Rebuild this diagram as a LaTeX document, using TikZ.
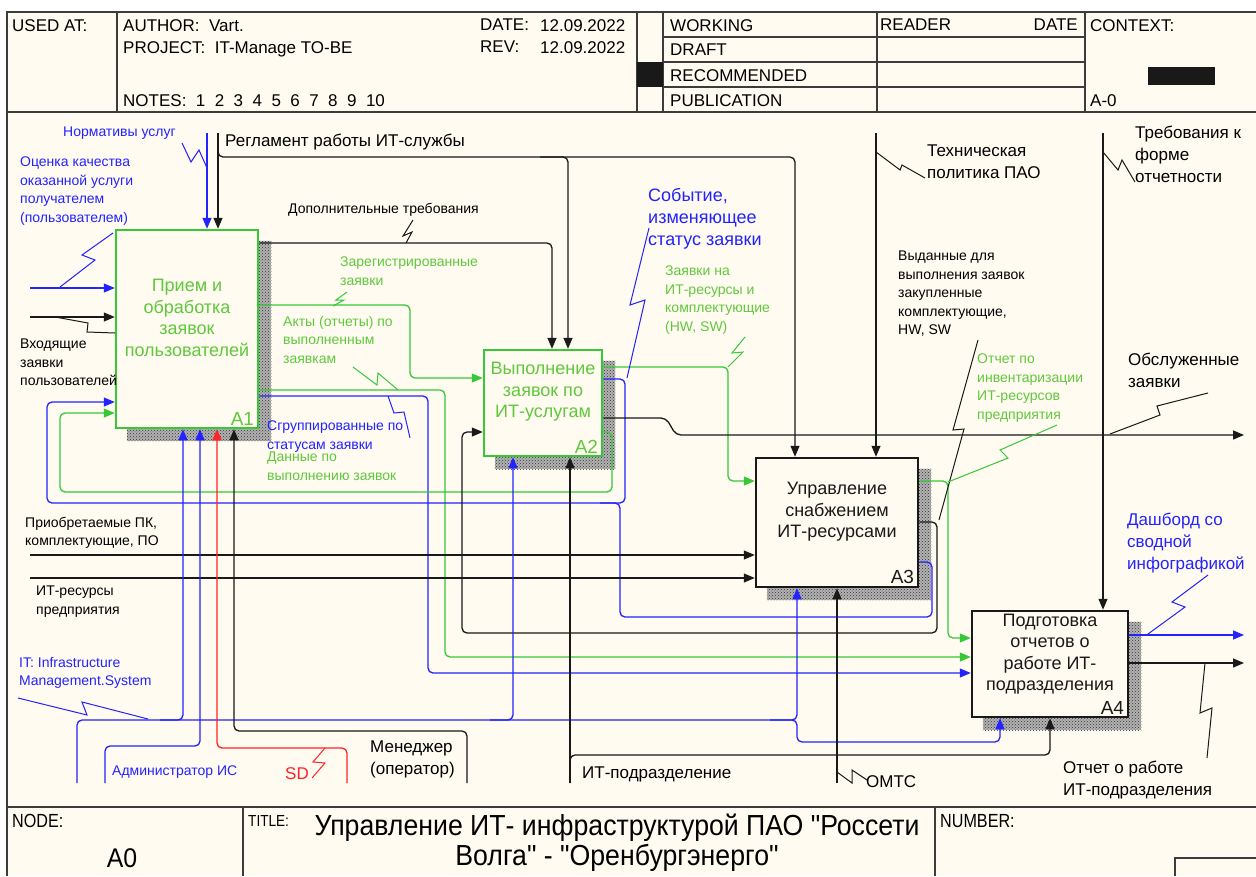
\documentclass[tikz,border=0pt]{standalone}
\usepackage{fontspec}
\setmainfont{Liberation Sans}
\newfontfamily\narrowf[FakeStretch=0.85]{Liberation Sans}
\newfontfamily\titlef[FakeStretch=0.92]{Liberation Sans}
\usetikzlibrary{arrows.meta,patterns,backgrounds}
\definecolor{bgc}{RGB}{255,251,240}
\definecolor{bl}{RGB}{35,35,255}
\definecolor{gr}{RGB}{55,200,55}
\definecolor{grt}{RGB}{95,200,60}
\definecolor{rd}{RGB}{255,35,35}
\definecolor{ink}{RGB}{25,25,25}
\begin{document}
\begin{tikzpicture}[x=1pt,y=-1pt,
  fr/.style={draw=ink!85, line width=1.5pt},
  bx/.style={line width=2.5pt, fill=bgc, inner sep=0pt},
  cn/.style={line width=1.3pt, rounded corners=5pt},
  ar/.style={-{Triangle[length=11pt,width=9pt]}},
  cB/.style={cn, draw=bl}, cG/.style={cn, draw=gr}, cK/.style={cn, draw=ink}, cR/.style={cn, draw=rd},
  zz/.style={line width=1pt},
  lab/.style={anchor=north west, inner sep=0pt, align=left},
  ls/.style={lab, font=\fontsize{14}{18.5}\selectfont},
  ll/.style={lab, font=\fontsize{17}{22}\selectfont},
  bt/.style={align=center, font=\fontsize{18}{21.5}\selectfont, inner sep=0pt},
  bn/.style={anchor=south east, inner sep=0pt, font=\fontsize{19}{20}\selectfont},
  hd/.style={anchor=north west, inner sep=0pt, font=\fontsize{17}{20}\selectfont},
  shd/.style={fill=gray!60, postaction={pattern=crosshatch dots, pattern color=black!80}},
]
\useasboundingbox (0,0) rectangle (1256,876);
\begin{scope}[on background layer]
  \fill[white] (0,0) rectangle (1256,876);
  \fill[bgc] (7,12) rectangle (1256,876);
\end{scope}

% ---------- frame ----------
\draw[fr] (1256,12) -- (7,12) -- (7,876);
\draw[fr] (7,112) -- (1256,112);
\draw[fr] (117,12) -- (117,112);
\draw[fr] (637,12) -- (637,112);
\draw[fr] (663,12) -- (663,112);
\draw[fr] (877,12) -- (877,112);
\draw[fr] (1085,12) -- (1085,112);
\foreach \yy in {37,62,87} \draw[fr] (663,\yy) -- (1085,\yy);
\fill[ink] (637,62) rectangle (663,87);
\fill[ink] (1148,67) rectangle (1215,85);
\draw[fr] (7,807) -- (1256,807);
\draw[fr] (243,807) -- (243,876);
\draw[fr] (935,807) -- (935,876);
\draw[fr] (1256,858) -- (1175,858) -- (1175,876);

% ---------- header text ----------
\node[hd] (hUsed) at (12,19) {USED AT:};
\node[hd] (hAuth) at (123,19) {AUTHOR:\ \ Vart.};
\node[hd] (hProj) at (123,41) {PROJECT:\ \ IT-Manage TO-BE};
\node[hd] (hNotes) at (123,94) {NOTES:\ \ 1\ \ 2\ \ 3\ \ 4\ \ 5\ \ 6\ \ 7\ \ 8\ \ 9\ \ 10};
\node[hd] (hDate) at (480,19) {DATE:};
\node[hd] (hDateV) at (540,19) {12.09.2022};
\node[hd] (hRev) at (480,41) {REV:};
\node[hd] (hRevV) at (540,41) {12.09.2022};
\node[hd] (hWork) at (670,19) {WORKING};
\node[hd] (hDraft) at (670,44) {DRAFT};
\node[hd] (hRec) at (670,69) {RECOMMENDED};
\node[hd] (hPub) at (670,94) {PUBLICATION};
\node[hd] (hRead) at (880,19) {READER};
\node[hd, anchor=north east] (hRDate) at (1078,19) {DATE};
\node[hd] (hCtx) at (1090,19) {CONTEXT:};
\node[hd] (hA0) at (1090,94) {A-0};

% ---------- footer text ----------
\node[anchor=north west, inner sep=0pt, font=\narrowf\fontsize{19}{20}\selectfont] (bNode) at (12,814) {NODE:};
\node[anchor=north west, inner sep=0pt, font=\narrowf\fontsize{16}{18}\selectfont] (bTitle) at (248,815) {TITLE:};
\node[anchor=north west, inner sep=0pt, font=\narrowf\fontsize{19}{20}\selectfont] (bNum) at (940,814) {NUMBER:};
\node[font=\titlef\fontsize{27}{30}\selectfont, inner sep=0pt] (bA0) at (122,858) {A0};
\node[font=\titlef\fontsize{29}{30}\selectfont, align=center, inner sep=0pt] (bT) at (617,843) {Управление ИТ- инфраструктурой ПАО "Россети\\Волга" - "Оренбургэнерго"};

% ---------- boxes ----------
\node[bx, draw=gr, minimum width=142pt, minimum height=198pt] (A1) at (187,329) {};
\node[bx, draw=gr, minimum width=118pt, minimum height=106pt] (A2) at (543,403) {};
\node[bx, draw=ink, minimum width=162pt, minimum height=129pt] (A3) at (837,522.5) {};
\node[bx, draw=ink, minimum width=156pt, minimum height=106pt] (A4) at (1050,664) {};
\begin{scope}[on background layer]
  \foreach \b in {A1,A2,A3,A4}
    \path[shd] ([shift={(12,12)}]\b.north west) rectangle ([shift={(12,12)}]\b.south east);
\end{scope}
\node[bt, text=grt] (A1t) at (187,318) {Прием и\\обработка\\заявок\\пользователей};
\node[bn, text=grt] (A1n) at ([shift={(-5,-4)}]A1.south east) {A1};
\node[bt, text=grt] (A2t) at (543,392) {Выполнение\\заявок по\\ИТ-услугам};
\node[bn, text=grt] (A2n) at ([shift={(-5,-4)}]A2.south east) {A2};
\node[bt, text=ink] (A3t) at (837,512) {Управление\\снабжением\\ИТ-ресурсами};
\node[bn, text=ink] (A3n) at ([shift={(-5,-4)}]A3.south east) {A3};
\node[bt, text=ink] (A4t) at (1050,654) {Подготовка\\отчетов о\\работе ИТ-\\подразделения};
\node[bn, text=ink] (A4n) at ([shift={(-5,-4)}]A4.south east) {A4};

% ---------- free ends ----------
\coordinate (cNorm) at (207,133);
\coordinate (cReg) at (218,133);
\coordinate (cTech) at (876,133);
\coordinate (cTreb) at (1103,133);
\coordinate (iOcen) at (30,288);
\coordinate (iVhod) at (30,317);
\coordinate (iPriob) at (30,555);
\coordinate (iRes) at (30,578);
\coordinate (mIT) at (77,783);
\coordinate (mAdm) at (105,783);
\coordinate (mSD) at (347,783);
\coordinate (mMen) at (467,783);
\coordinate (mPodr) at (570,783);
\coordinate (mOmts) at (837,783);
\coordinate (oObs) at (1244,435);
\coordinate (oDash) at (1244,635);
\coordinate (oOtch) at (1244,663);

% ---------- connectors ----------
\draw[cB,ar] (cNorm) -- (A1.north -| cNorm);
\draw[cK,ar] (cReg) -- (A1.north -| cReg);
\draw[cK,ar] (218,150) -- (218,157) -- (795,157) -- (A3.north -| 795,0);
\draw[cK,ar] (540,157) -- (568,157) -- (A2.north -| 568,0);
\draw[cK,ar] (A1.east |- 0,243) -- (552,243) -- (A2.north -| 552,0);
\draw[cG,ar] (A1.east |- 0,305) -- (410,305) -- (410,378) -- (A2.west |- 0,378);
\draw[cG,ar] (A1.east |- 0,390) -- (445,390) -- (445,657) -- (A4.west |- 0,657);
\draw[cB,ar] (A1.east |- 0,396) -- (428,396) -- (428,673) -- (A4.west |- 0,673);
\draw[cB,ar] (A2.east |- 0,379) -- (625,379) -- (625,503) -- (47,503) -- (47,402) -- (A1.west |- 0,402);
\draw[cB] (A3.east |- 0,562) -- (932,562) -- (932,617) -- (620,617) -- (620,503) -- (600,503);
\draw[cG,ar] (A2.east |- 0,432) -- (612,432) -- (612,492) -- (60,492) -- (60,413) -- (A1.west |- 0,413);
\draw[cG,ar] (A2.east |- 0,367) -- (728,367) -- (728,481) -- (A3.west |- 0,481);
\draw[cK,ar] (A2.east |- 0,418) -- (666,418) -- (676,435) -- (oObs);
\draw[cK,ar] (A3.east |- 0,522) -- (937,522) -- (937,633) -- (462,633) -- (462,432) -- (A2.west |- 0,432);
\draw[cG,ar] (A3.east |- 0,481) -- (948,481) -- (948,638) -- (A4.west |- 0,638);
\draw[cK,ar] (cTech) -- (A3.north -| cTech);
\draw[cK,ar] (cTreb) -- (A4.north -| cTreb);
\draw[cK,ar] (iVhod) -- (A1.west |- iVhod);
\draw[cB,ar] (iOcen) -- (A1.west |- iOcen);
\draw[cK,ar] (iPriob) -- (A3.west |- iPriob);
\draw[cK,ar] (iRes) -- (A3.west |- iRes);
\draw[cB,ar] (mIT) -- (77,720) -- (797,720) -- (797,742) -- (1000,742) -- (A4.south -| 1000,0);
\draw[cB,ar] (160,720) -- (183,720) -- (A1.south -| 183,0);
\draw[cB,ar] (490,720) -- (513,720) -- (A2.south -| 513,0);
\draw[cB,ar] (770,720) -- (797,720) -- (A3.south -| 797,0);
\draw[cB,ar] (mAdm) -- (105,746) -- (200,746) -- (A1.south -| 200,0);
\draw[cR,ar] (mSD) -- (347,748) -- (217,748) -- (A1.south -| 217,0);
\draw[cK,ar] (mMen) -- (467,731) -- (234,731) -- (A1.south -| 234,0);
\draw[cK,ar] (mPodr) -- (A2.south -| mPodr);
\draw[cK,ar] (mPodr) -- (570,755) -- (1050,755) -- (A4.south -| 1050,0);
\draw[cK,ar] (mOmts) -- (A3.south -| mOmts);
\draw[cB,ar] (A4.east |- 0,635) -- (oDash);
\draw[cK,ar] (A4.east |- 0,663) -- (oOtch);

% ---------- squiggles ----------
\draw[zz,bl] (182,143) -- (191,162) -- (199,150) -- (207,168);
\draw[zz,bl] (60,287) -- (95,260) -- (82,255) -- (113,233);
\draw[zz,ink] (55,317) -- (88,323) -- (87,332) -- (115,333);
\draw[zz,ink] (413,220) -- (403,236) -- (412,232) -- (406,243);
\draw[zz,gr] (347,292) -- (336,300) -- (344,300) -- (333,306);
\draw[zz,gr] (353,367) -- (377,385) -- (378,373) -- (398,390);
\draw[zz,bl] (388,396) -- (394,413) -- (404,412) -- (410,438);
\draw[zz,bl] (649,228) -- (630,305) -- (645,300) -- (627,378);
\draw[zz,gr] (745,337) -- (732,353) -- (743,352) -- (728,367);
\draw[zz,ink] (1208,393) -- (1157,406) -- (1160,415) -- (1110,434);
\draw[zz,ink] (978,340) -- (953,430) -- (964,429) -- (939,520);
\draw[zz,gr] (1057,425) -- (1000,450) -- (1008,458) -- (948,482);
\draw[zz,ink] (876,152) -- (900,170) -- (902,165) -- (925,178);
\draw[zz,ink] (1103,152) -- (1118,170) -- (1122,160) -- (1135,182);
\draw[zz,bl] (18,698) -- (87,715) -- (82,702) -- (148,719);
\draw[zz,rd] (312,778) -- (325,763) -- (313,762) -- (325,748);
\draw[zz,ink] (837,772) -- (852,783) -- (852,770) -- (867,780);
\draw[zz,bl] (1208,575) -- (1172,602) -- (1185,607) -- (1148,634);
\draw[zz,ink] (1207,758) -- (1212,708) -- (1200,713) -- (1205,663);

% ---------- labels ----------
\node[ls, text=bl] (lNorm) at (63,127) {Нормативы услуг};
\node[ls, text=bl] (lOcen) at (20,157) {Оценка качества\\оказанной услуги\\получателем\\(пользователем)};
\node[ll] (lReg) at (225,134) {Регламент работы ИТ-службы};
\node[ls] (lDop) at (288,203) {Дополнительные требования};
\node[ls, text=grt] (lZar) at (340,257) {Зарегистрированные\\заявки};
\node[ls, text=grt] (lAkt) at (283,316) {Акты (отчеты) по\\выполненным\\заявкам};
\node[ls, text=bl] (lSgr) at (267,421) {Сгруппированные по\\статусам заявки};
\node[ls, text=grt] (lDan) at (267,452) {Данные по\\выполнению заявок};
\node[lab, text=bl, font=\fontsize{18}{22}\selectfont] (lSob) at (648,188) {Событие,\\изменяющее\\статус заявки};
\node[ls, text=grt] (lZay) at (665,266) {Заявки на\\ИТ-ресурсы и\\комплектующие\\(HW, SW)};
\node[ll] (lTech) at (927,145) {Техническая\\политика ПАО};
\node[ll] (lTreb) at (1135,126) {Требования к\\форме\\отчетности};
\node[ls] (lVyd) at (898,251) {Выданные для\\выполнения заявок\\закупленные\\комплектующие,\\HW, SW};
\node[ls, text=grt] (lInv) at (977,354) {Отчет по\\инвентаризации\\ИТ-ресурсов\\предприятия};
\node[ll] (lObs) at (1128,353) {Обслуженные\\заявки};
\node[ls] (lVhod) at (20,339) {Входящие\\заявки\\пользователей};
\node[ls] (lPriob) at (25,517) {Приобретаемые ПК,\\комплектующие, ПО};
\node[ls] (lRes) at (36,586) {ИТ-ресурсы\\предприятия};
\node[ls, text=bl] (lIT) at (19,657) {IT: Infrastructure\\Management.System};
\node[ls, text=bl] (lAdm) at (112,766) {Администратор ИС};
\node[ll, text=rd] (lSD) at (285,767) {SD};
\node[ll] (lMen) at (370,741) {Менеджер\\(оператор)};
\node[ll] (lPodr) at (582,767) {ИТ-подразделение};
\node[ll] (lOmts) at (866,775) {ОМТС};
\node[ll, text=bl] (lDash) at (1127,513) {Дашборд со\\сводной\\инфографикой};
\node[ll] (lOtch) at (1063,761) {Отчет о работе\\ИТ-подразделения};
\end{tikzpicture}
\end{document}
